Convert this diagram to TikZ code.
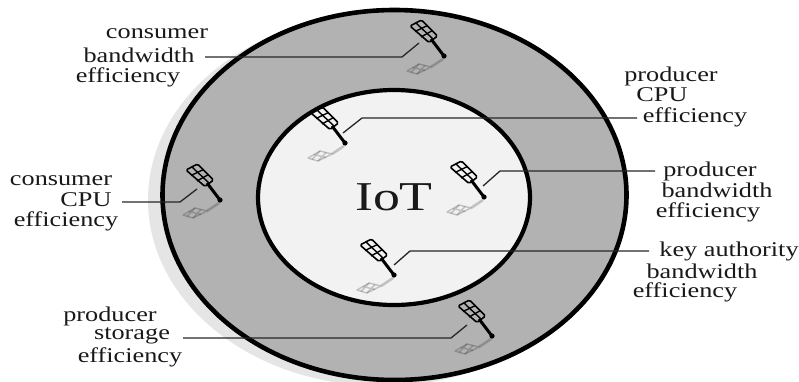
\documentclass[tikz,border=0pt]{standalone}
\usepackage{fontspec}
\setmainfont{Liberation Serif}
\tikzset{
  lbl/.style={inner sep=0pt,font=\fontsize{21}{21}\selectfont,xscale=1.25,transform shape,text=black!90},
  conn/.style={draw=black!85,line width=1.3pt,line join=miter},
  antenna/.pic={
    \begin{scope}[opacity=.2,line width=1.4pt,line join=round]
    \draw (-37,15)--(-25,8)--(-13,11)--(-27,18)--cycle;
    \draw (-31,11.5)--(-19,14.5) (-25,8)--(-33,16.5) (-19,9.5)--(-27,18);
    \draw[line width=2.6pt] (-13,11)--(-1,3);
    \end{scope}
    \draw[black,line width=1.6pt,line join=round,rounded corners=1.5pt] (-34,-30)--(-22.5,-36)--(-6.5,-20)--(-15,-13.5)--cycle;
    \draw[black,line width=1.4pt] (-28,-33)--(-11,-17);
    \draw[black,line width=1.4pt] (-29,-24.5)--(-16.5,-30.5) (-23,-19)--(-11.5,-25.5);
    \draw[black,line width=3pt] (-13,-17)--(0,0);
    \fill[black] (0,0) circle (2.6);
  }
}
\begin{document}
\begin{tikzpicture}[x=1pt,y=-1pt]
\useasboundingbox (0,0) rectangle (799,381);
\fill[black!10] (382,200) ellipse [x radius=234,y radius=186];
\draw[black,line width=4.6pt,fill=black!30] (394.5,195) ellipse [x radius=232,y radius=185];
\draw[black,line width=4.2pt,fill=black!5] (394,197.5) ellipse [x radius=136,y radius=107.5];
\node[lbl,font=\fontsize{41}{41}\selectfont,xscale=1.05] (iot) at (394,197) {IoT};
\foreach \x/\y in {444/56,345/143,484/197,394/275,220/200,492/336}
  \pic at (\x,\y) {antenna};
\coordinate (a0) at (205,57); \coordinate (a1) at (402,57); \coordinate (a2) at (419,43);
\coordinate (b0) at (637,118); \coordinate (b1) at (362,118); \coordinate (b2) at (343,133);
\coordinate (c0) at (655,171); \coordinate (c1) at (500,171); \coordinate (c2) at (483,186);
\coordinate (d0) at (649,251); \coordinate (d1) at (410,251); \coordinate (d2) at (394,265);
\coordinate (e0) at (122,202); \coordinate (e1) at (180,202); \coordinate (e2) at (197,189);
\coordinate (f0) at (183,338); \coordinate (f1) at (451,338); \coordinate (f2) at (467,325);
\draw[conn] (a0)--(a1)--(a2);
\draw[conn] (b0)--(b1)--(b2);
\draw[conn] (c0)--(c1)--(c2);
\draw[conn] (d0)--(d1)--(d2);
\draw[conn] (e0)--(e1)--(e2);
\draw[conn] (f0)--(f1)--(f2);
\node[lbl] (t1) at (157,34) {consumer};
\node[lbl] (t2) at (139,55) {bandwidth};
\node[lbl] (t3) at (128,77) {efficiency};
\node[lbl] (t4) at (671,76) {producer};
\node[lbl] (t5) at (662,95) {CPU};
\node[lbl] (t6) at (695,117) {efficiency};
\node[lbl] (t7) at (710,171) {producer};
\node[lbl] (t8) at (717,190) {bandwidth};
\node[lbl] (t9) at (708,212) {efficiency};
\node[lbl] (t10) at (729,251) {key authority};
\node[lbl] (t11) at (702,271) {bandwidth};
\node[lbl] (t12) at (685,292) {efficiency};
\node[lbl] (t13) at (61,181) {consumer};
\node[lbl] (t14) at (86,200) {CPU};
\node[lbl] (t15) at (66,221) {efficiency};
\node[lbl] (t16) at (110,316) {producer};
\node[lbl] (t17) at (132,336) {storage};
\node[lbl] (t18) at (130,357) {efficiency};
\end{tikzpicture}
\end{document}
